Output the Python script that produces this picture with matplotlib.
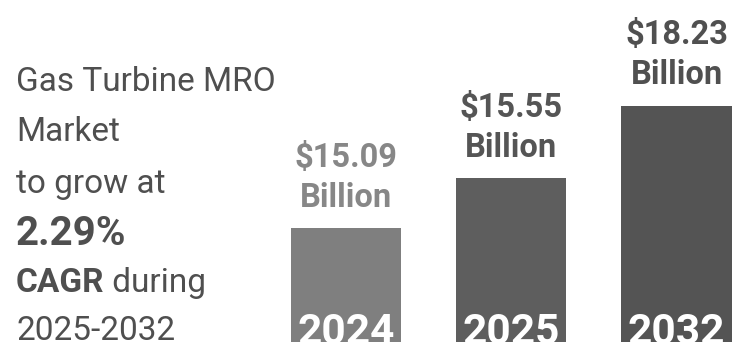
import numpy as np
import matplotlib.pyplot as plt

plt.rcParams['font.family'] = ['Roboto', 'DejaVu Sans']

# market size, USD billion
years = ['2024', '2025', '2032']
values = [15.09, 15.55, 18.23]
value_labels = ['$15.09', '$15.55', '$18.23']

bar_colors = ['#7f7f7f', '#5e5e5e', '#545454']
label_colors = ['#878787', '#555555', '#505050']
text_color = '#4f4f4f'

W, H = 737, 342
fig = plt.figure(figsize=(W / 100, H / 100), dpi=100)

# compressed value axis so the small year-on-year change stays visible
OFFSET = 14.85


def forward(v):
    return np.log(np.maximum(np.asarray(v, dtype=float) - OFFSET, 1e-9))


def inverse(u):
    return np.exp(u) + OFFSET


ax = fig.add_axes([263.4 / W, 0, 1 - 263.4 / W, 1])
ax.set_yscale('function', functions=(forward, inverse))
ymin, ymax = 14.8705, 47.87
ax.set_ylim(ymin, ymax)
ax.set_xlim(-0.5, (W - 346) / 165.25)

x = np.arange(len(years))
heights = [v - ymin for v in values]
ax.bar(x, heights, bottom=ymin, width=0.667, color=bar_colors)

for i in range(len(years)):
    ax.annotate('Billion', xy=(x[i], values[i]), xytext=(0, 15.5),
                textcoords='offset points', ha='center', va='baseline',
                fontsize=23.5, fontweight='bold', color=label_colors[i])
    ax.annotate(value_labels[i], xy=(x[i], values[i]), xytext=(0, 44),
                textcoords='offset points', ha='center', va='baseline',
                fontsize=23.5, fontweight='bold', color=label_colors[i])
    # year sits at the foot of each bar, running off the bottom edge
    ax.text(x[i], -0.005, years[i], transform=ax.get_xaxis_transform(),
            ha='center', va='baseline', fontsize=30.5, fontweight='bold',
            color='white')

ax.axis('off')

# headline text on the left
left = 16 / W
def ypos(px):
    return 1 - px / H

fig.text(left, ypos(91), 'Gas Turbine MRO', fontsize=24, color=text_color, va='baseline')
fig.text(left, ypos(141), 'Market', fontsize=24, color=text_color, va='baseline')
fig.text(left, ypos(193), 'to grow at', fontsize=24, color=text_color, va='baseline')
fig.text(left, ypos(245), '2.29%', fontsize=29, fontweight='bold', color=text_color, va='baseline')
cagr = fig.text(left, ypos(292), 'CAGR', fontsize=24, fontweight='bold', color=text_color, va='baseline')
fig.canvas.draw()
bb = cagr.get_window_extent(fig.canvas.get_renderer())
fig.text(bb.x1 / W, ypos(292), ' during', fontsize=24, color=text_color, va='baseline')
fig.text(left, ypos(340), '2025-2032', fontsize=24, color=text_color, va='baseline')

fig.savefig('out.png', dpi=100, facecolor='white')
